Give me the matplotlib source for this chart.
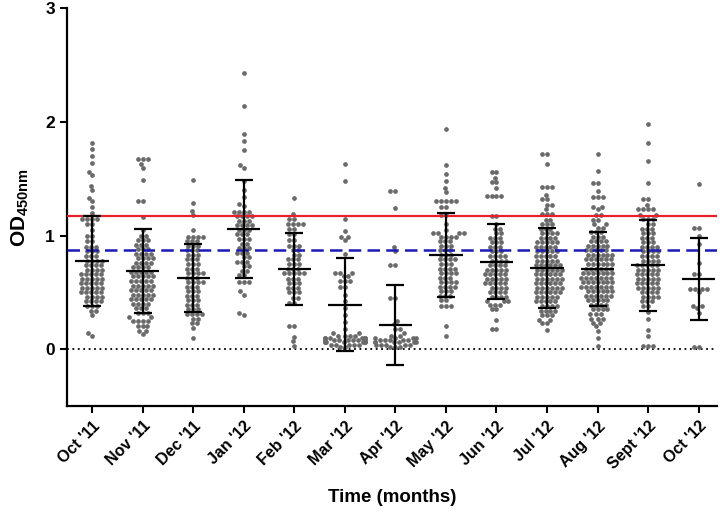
import warnings

import numpy as np
import pandas as pd
import matplotlib
matplotlib.use("Agg")
import matplotlib.pyplot as plt
import matplotlib.transforms as mtransforms
import seaborn as sns

warnings.filterwarnings("ignore")

months = ["Oct '11", "Nov '11", "Dec '11", "Jan '12", "Feb '12", "Mar '12", "Apr '12",
          "May '12", "Jun '12", "Jul '12", "Aug '12", "Sept '12", "Oct '12"]

# mean and SD
means = [0.774, 0.69, 0.63, 1.057, 0.705, 0.39, 0.215, 0.83, 0.77, 0.715, 0.705, 0.737, 0.617]
sds = [0.394, 0.37, 0.30, 0.43, 0.315, 0.41, 0.35, 0.37, 0.33, 0.355, 0.325, 0.40, 0.36]

cutoff_red = 1.174
cutoff_blue = 0.875

# individual OD readings per month, as (value, how many dots in that row)
oct11 = [(1.81, 1), (1.76, 1), (1.70, 1), (1.64, 1), (1.56, 1), (1.53, 1), (1.44, 1), (1.40, 1),
         (1.33, 1), (1.30, 1), (1.25, 1), (1.20, 1), (1.15, 4), (1.10, 2), (1.05, 1), (1.00, 2),
         (0.95, 2), (0.90, 3), (0.86, 3), (0.82, 3), (0.78, 4), (0.74, 4), (0.70, 4), (0.66, 5),
         (0.62, 5), (0.58, 5), (0.54, 5), (0.50, 5), (0.46, 4), (0.42, 4), (0.38, 3), (0.34, 2),
         (0.30, 1), (0.14, 1), (0.12, 1)]
nov11 = [(1.67, 3), (1.63, 1), (1.59, 1), (1.49, 1), (1.30, 2), (1.16, 1), (1.05, 1), (1.00, 2),
         (0.96, 3), (0.92, 3), (0.88, 3), (0.84, 4), (0.80, 4), (0.76, 4), (0.72, 4), (0.68, 5),
         (0.64, 5), (0.60, 5), (0.56, 5), (0.52, 5), (0.48, 5), (0.44, 5), (0.40, 4), (0.36, 3),
         (0.32, 3), (0.28, 2), (0.25, 4), (0.20, 3), (0.16, 2), (0.13, 1)]
dec11 = [(1.49, 1), (1.29, 1), (1.22, 1), (1.18, 1), (1.05, 1), (0.99, 4), (0.95, 3), (0.91, 3),
         (0.87, 3), (0.83, 3), (0.79, 3), (0.75, 3), (0.71, 3), (0.67, 4), (0.63, 3), (0.59, 4),
         (0.55, 3), (0.51, 3), (0.47, 3), (0.43, 3), (0.39, 3), (0.35, 3), (0.31, 4), (0.27, 2),
         (0.23, 2), (0.19, 1), (0.10, 1)]
jan12 = [(2.43, 1), (2.14, 1), (1.89, 1), (1.83, 1), (1.75, 1), (1.62, 1), (1.59, 1), (1.48, 1),
         (1.40, 1), (1.34, 1), (1.28, 1), (1.26, 1), (1.21, 4), (1.17, 4), (1.13, 3), (1.09, 4),
         (1.05, 3), (1.01, 3), (0.97, 3), (0.93, 2), (0.89, 3), (0.85, 3), (0.81, 2), (0.77, 3),
         (0.73, 2), (0.69, 2), (0.65, 2), (0.59, 3), (0.51, 1), (0.48, 1), (0.32, 1), (0.30, 1)]
feb12 = [(1.33, 1), (1.19, 1), (1.15, 2), (1.10, 4), (1.06, 2), (1.01, 2), (0.96, 2), (0.91, 3),
         (0.87, 2), (0.83, 2), (0.79, 3), (0.75, 3), (0.71, 3), (0.67, 5), (0.62, 3), (0.58, 3),
         (0.54, 3), (0.50, 3), (0.45, 2), (0.41, 2), (0.20, 2), (0.11, 1), (0.07, 1), (0.03, 1)]
mar12 = [(1.63, 1), (1.48, 1), (1.15, 1), (1.04, 1), (0.99, 2), (0.96, 1), (0.84, 1), (0.67, 3),
         (0.64, 2), (0.60, 3), (0.55, 2), (0.48, 1), (0.42, 1), (0.36, 1), (0.30, 1), (0.24, 1),
         (0.18, 1), (0.14, 2), (0.12, 4), (0.10, 6), (0.08, 7), (0.06, 7), (0.04, 5), (0.02, 2)]
apr12 = [(1.39, 2), (1.24, 1), (0.90, 1), (0.86, 1), (0.74, 2), (0.45, 2), (0.25, 1), (0.22, 1),
         (0.18, 2), (0.14, 1), (0.12, 2), (0.10, 4), (0.08, 5), (0.06, 6), (0.04, 5), (0.02, 3)]
may12 = [(1.94, 1), (1.62, 1), (1.54, 1), (1.48, 1), (1.42, 1), (1.38, 1), (1.30, 5), (1.25, 2),
         (1.18, 2), (1.10, 1), (1.05, 1), (1.02, 4), (0.99, 4), (0.95, 3), (0.91, 3), (0.87, 3),
         (0.83, 3), (0.79, 4), (0.75, 3), (0.71, 4), (0.67, 4), (0.63, 3), (0.59, 4), (0.55, 4),
         (0.51, 3), (0.47, 3), (0.43, 2), (0.38, 3), (0.20, 1), (0.12, 1)]
jun12 = [(1.56, 2), (1.51, 1), (1.47, 2), (1.42, 1), (1.35, 4), (1.17, 2), (1.10, 1), (1.06, 2),
         (1.02, 2), (0.98, 3), (0.94, 3), (0.90, 3), (0.86, 3), (0.82, 4), (0.78, 4), (0.74, 4),
         (0.70, 5), (0.66, 5), (0.62, 5), (0.58, 5), (0.54, 4), (0.50, 4), (0.46, 4), (0.42, 3),
         (0.39, 3), (0.35, 2), (0.26, 1), (0.18, 2)]
jul12 = [(1.72, 2), (1.63, 1), (1.43, 3), (1.36, 1), (1.32, 2), (1.27, 2), (1.23, 1), (1.19, 3),
         (1.14, 2), (1.10, 3), (1.06, 3), (1.02, 4), (0.98, 4), (0.94, 5), (0.90, 5), (0.86, 5),
         (0.82, 5), (0.78, 5), (0.74, 6), (0.70, 6), (0.66, 6), (0.62, 6), (0.58, 6), (0.54, 6),
         (0.50, 6), (0.46, 5), (0.42, 5), (0.38, 4), (0.34, 4), (0.30, 3), (0.26, 2), (0.23, 2),
         (0.17, 1)]
aug12 = [(1.72, 1), (1.57, 1), (1.46, 2), (1.39, 1), (1.34, 3), (1.25, 2), (1.23, 1), (1.18, 2),
         (1.14, 2), (1.10, 2), (1.07, 2), (1.03, 3), (0.99, 3), (0.95, 4), (0.91, 5), (0.87, 5),
         (0.83, 6), (0.79, 6), (0.75, 6), (0.71, 6), (0.67, 7), (0.63, 7), (0.59, 7), (0.55, 7),
         (0.51, 6), (0.47, 6), (0.43, 5), (0.39, 4), (0.35, 4), (0.31, 3), (0.27, 3), (0.23, 2),
         (0.20, 1), (0.16, 1), (0.10, 1), (0.03, 1)]
sep12 = [(1.98, 1), (1.81, 1), (1.66, 1), (1.46, 1), (1.32, 2), (1.27, 1), (1.23, 4), (1.18, 2),
         (1.15, 3), (1.10, 2), (1.06, 3), (1.02, 3), (0.98, 3), (0.94, 3), (0.90, 4), (0.86, 4),
         (0.82, 4), (0.78, 4), (0.74, 5), (0.70, 5), (0.66, 5), (0.62, 5), (0.58, 5), (0.54, 5),
         (0.50, 4), (0.46, 4), (0.42, 3), (0.38, 2), (0.33, 1), (0.27, 1), (0.17, 1), (0.12, 1),
         (0.03, 3)]
oct12 = [(1.45, 1), (1.07, 2), (1.00, 1), (0.93, 1), (0.76, 1), (0.66, 2), (0.53, 4), (0.50, 1),
         (0.38, 2), (0.36, 1), (0.32, 1), (0.02, 2)]

groups = [oct11, nov11, dec11, jan12, feb12, mar12, apr12, may12, jun12, jul12, aug12, sep12, oct12]

frames = []
for label, rows in zip(months, groups):
    vals = np.repeat([r[0] for r in rows], [r[1] for r in rows])
    frames.append(pd.DataFrame({"month": label, "od": vals}))
df = pd.concat(frames, ignore_index=True)

plt.rcParams["font.family"] = ["Liberation Sans", "DejaVu Sans"]
plt.rcParams["font.weight"] = "bold"
plt.rcParams["mathtext.fontset"] = "custom"
plt.rcParams["mathtext.rm"] = "Liberation Sans:bold"
plt.rcParams["mathtext.bf"] = "Liberation Sans:bold"
plt.rcParams["mathtext.default"] = "bf"

fig = plt.figure(figsize=(7.27, 5.14), dpi=100)
ax = fig.add_axes([0.092, 0.210, 0.894, 0.774])

ax.axhline(0, color="black", lw=1.3, ls=(0, (1, 2)), zorder=1)

sns.swarmplot(data=df, x="month", y="od", order=months, color="#6a6a6a",
              size=3.4, linewidth=0, ax=ax, zorder=2)

ax.axhline(cutoff_red, color="#e8202a", lw=1.6, zorder=3)
ax.axhline(cutoff_blue, color="#1a1ab4", lw=1.8, ls=(0, (5, 2.5)), zorder=3)

x = np.arange(len(months))
ax.errorbar(x, means, yerr=sds, fmt="none", ecolor="black", elinewidth=1.6,
            capsize=6.5, capthick=1.6, zorder=4)
ax.hlines(means, x - 0.33, x + 0.33, color="black", lw=1.6, zorder=4)

ax.set_xlim(-0.5, 12.36)
ax.set_ylim(-0.5, 3)
ax.set_yticks([0, 1, 2, 3])
ax.set_xticks(x)
ax.set_xticklabels(months, rotation=45, ha="right", rotation_mode="anchor",
                   fontsize=11.5, fontweight="bold")
# nudge the slanted labels a little to the right, like the original
shift = mtransforms.ScaledTranslation(5 / 72, 0, fig.dpi_scale_trans)
for lbl in ax.get_xticklabels():
    lbl.set_transform(lbl.get_transform() + shift)
ax.tick_params(axis="y", labelsize=12.5)
ax.tick_params(direction="out", length=5, width=1.5)
ax.tick_params(axis="x", pad=4)
for side in ["top", "right"]:
    ax.spines[side].set_visible(False)
for side in ["left", "bottom"]:
    ax.spines[side].set_linewidth(1.6)

ax.set_xlabel("Time (months)", fontsize=13.5, fontweight="bold", labelpad=12)
ax.set_ylabel(r"OD$_{450nm}$", fontsize=15, fontweight="bold", labelpad=10)
ax.grid(False)

fig.savefig("out.png", dpi=100)
